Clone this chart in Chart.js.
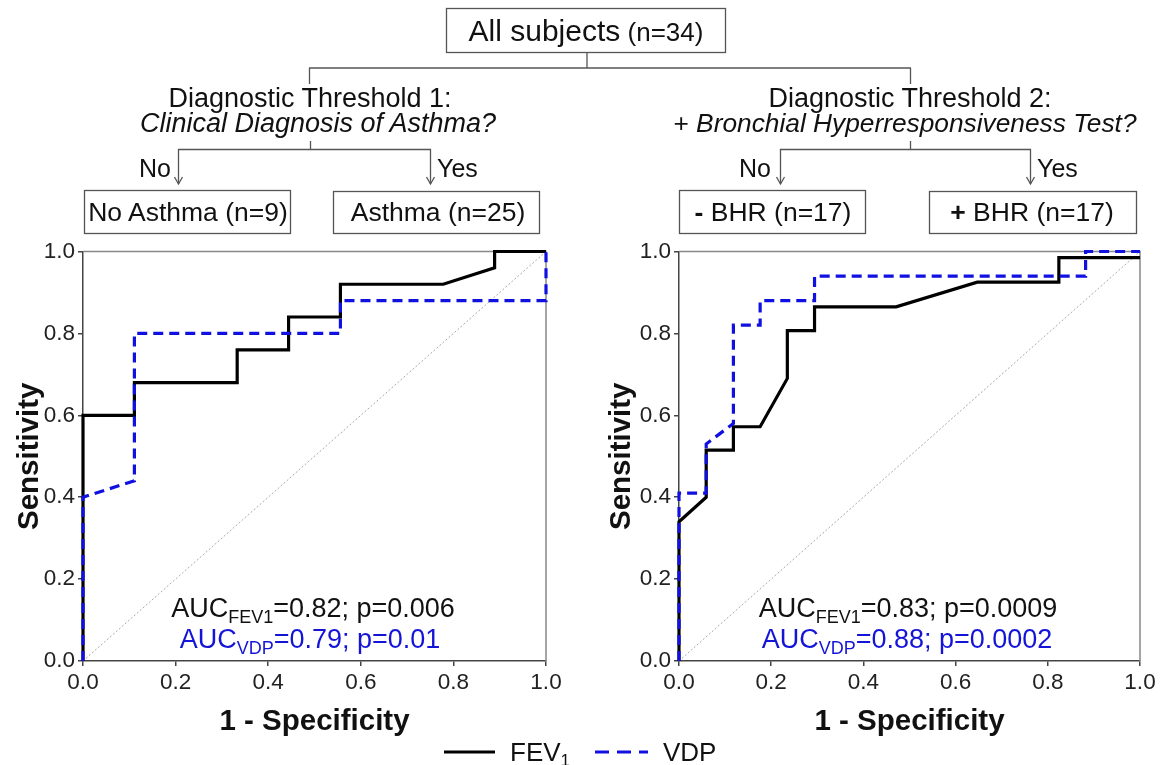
<!DOCTYPE html>
<html>
<head>
<meta charset="utf-8">
<script src="https://cdn.jsdelivr.net/npm/chart.js@4.4.1/dist/chart.umd.min.js"></script>
<style>
    body { margin: 0; background: #fff; }
    #page { position: relative; width: 1166px; height: 765px; overflow: hidden; font-family: 'Liberation Sans', Arial, sans-serif; }
    canvas { position: absolute; top: 235px; }
    #rocLeft { left: 0; }
    #rocRight { left: 583px; }
    #overlay { position: absolute; left: 0; top: 0; z-index: 2; pointer-events: none; }
</style>
</head>
<body>
<div id="page">
    <canvas id="rocLeft" width="583" height="506"></canvas>
    <canvas id="rocRight" width="583" height="506"></canvas>
    <svg id="overlay" width="1166" height="765" font-family="'Liberation Sans', Arial, sans-serif">
        <!-- decision tree -->
        <g stroke="#555" stroke-width="1.3" fill="none">
            <rect x="446.5" y="8.5" width="279" height="44"/>
            <path d="M587 53 V68 M309 68 H911 M309.5 68 V84 M910.5 68 V84"/>
            <path d="M310.5 141 V149 M178 149.5 H431 M178.5 149 V184 M430.5 149 V184"/>
            <path d="M174.5 177 L178.5 184 L182.5 177 M426.5 177 L430.5 184 L434.5 177"/>
            <path d="M910.5 141 V149 M780 149.5 H1031 M780.5 149 V184 M1030.5 149 V184"/>
            <path d="M776.5 177 L780.5 184 L784.5 177 M1026.5 177 L1030.5 184 L1034.5 177"/>
            <rect x="84.5" y="190.5" width="206" height="43"/>
            <rect x="333.5" y="191.5" width="206" height="42"/>
            <rect x="679.5" y="190.5" width="186" height="43"/>
            <rect x="929.5" y="191.5" width="207" height="42"/>
        </g>
        <g fill="#111">
            <text x="586" y="41" text-anchor="middle"><tspan font-size="30">All subjects</tspan><tspan font-size="26"> (n=34)</tspan></text>
            <text x="310" y="107" text-anchor="middle" font-size="27">Diagnostic Threshold 1:</text>
            <text x="318" y="132" text-anchor="middle" font-size="27" font-style="italic">Clinical Diagnosis of Asthma?</text>
            <text x="910" y="107" text-anchor="middle" font-size="27">Diagnostic Threshold 2:</text>
            <text x="905" y="132" text-anchor="middle" font-size="26.3">+ <tspan font-style="italic">Bronchial Hyperresponsiveness Test?</tspan></text>
            <text x="171" y="177" text-anchor="end" font-size="25">No</text>
            <text x="437" y="177" font-size="25">Yes</text>
            <text x="771" y="177" text-anchor="end" font-size="25">No</text>
            <text x="1037" y="177" font-size="25">Yes</text>
            <text x="188" y="221" text-anchor="middle" font-size="26.5">No Asthma (n=9)</text>
            <text x="438" y="221" text-anchor="middle" font-size="26.5">Asthma (n=25)</text>
            <text x="773" y="221" text-anchor="middle" font-size="26.5"><tspan font-weight="bold">-</tspan> BHR (n=17)</text>
            <text x="1032" y="221" text-anchor="middle" font-size="26.5"><tspan font-weight="bold">+</tspan> BHR (n=17)</text>
        </g>
        <!-- AUC annotations -->
        <text x="313" y="617" text-anchor="middle" font-size="27" fill="#111">AUC<tspan font-size="18" dy="6">FEV1</tspan><tspan dy="-6">=0.82; p=0.006</tspan></text>
        <text x="310" y="648" text-anchor="middle" font-size="27" fill="#1414d8">AUC<tspan font-size="18" dy="6">VDP</tspan><tspan dy="-6">=0.79; p=0.01</tspan></text>
        <text x="908" y="617" text-anchor="middle" font-size="27" fill="#111">AUC<tspan font-size="18" dy="6">FEV1</tspan><tspan dy="-6">=0.83; p=0.0009</tspan></text>
        <text x="907" y="648" text-anchor="middle" font-size="27" fill="#1414d8">AUC<tspan font-size="18" dy="6">VDP</tspan><tspan dy="-6">=0.88; p=0.0002</tspan></text>
        <!-- legend -->
        <line x1="444" y1="752" x2="495" y2="752" stroke="#000" stroke-width="3"/>
        <text x="510" y="761" font-size="26" fill="#111">FEV<tspan font-size="17" dy="5">1</tspan></text>
        <line x1="595" y1="752" x2="648" y2="752" stroke="#1010e0" stroke-width="3" stroke-dasharray="14 8"/>
        <text x="663" y="761" font-size="26" fill="#111">VDP</text>
    </svg>
</div>
<script>
    // ROC curve points (x = 1 - specificity, y = sensitivity)
    var leftFevX = [0, 0, 0.111, 0.111, 0.333, 0.333, 0.444, 0.444, 0.556, 0.556, 0.778, 0.889, 0.889, 1.0];
    var leftFevY = [0, 0.60, 0.60, 0.68, 0.68, 0.76, 0.76, 0.84, 0.84, 0.92, 0.92, 0.96, 1.0, 1.0];
    var leftVdpX = [0, 0, 0.111, 0.111, 0.556, 0.556, 1.0, 1.0];
    var leftVdpY = [0, 0.40, 0.44, 0.80, 0.80, 0.88, 0.88, 1.0];

    var rightFevX = [0, 0, 0.059, 0.059, 0.118, 0.118, 0.176, 0.235, 0.235, 0.294, 0.294, 0.471, 0.647, 0.824, 0.824, 1.0];
    var rightFevY = [0, 0.34, 0.40, 0.515, 0.515, 0.572, 0.572, 0.69, 0.807, 0.807, 0.865, 0.865, 0.925, 0.925, 0.985, 0.985];
    var rightVdpX = [0, 0, 0.059, 0.059, 0.118, 0.118, 0.176, 0.176, 0.294, 0.294, 0.882, 0.882, 1.0];
    var rightVdpY = [0, 0.41, 0.41, 0.53, 0.58, 0.82, 0.82, 0.88, 0.88, 0.94, 0.94, 1.0, 1.0];

    var diagX = [0, 1];
    var diagY = [0, 1];

    var axisTicks = [0, 0.2, 0.4, 0.6, 0.8, 1.0];

    var fontFamily = "'Liberation Sans', Arial, sans-serif";
    var blue = '#1010e0';

    Chart.defaults.font.family = fontFamily;

    // grey top/right frame of the plot box
    var framePlugin = {
        id: 'frame',
        beforeDatasetsDraw: function (chart) {
            var a = chart.chartArea;
            var ctx = chart.ctx;
            ctx.save();
            ctx.strokeStyle = '#888';
            ctx.lineWidth = 1.5;
            ctx.beginPath();
            ctx.moveTo(a.left, a.top);
            ctx.lineTo(a.right, a.top);
            ctx.lineTo(a.right, a.bottom);
            ctx.stroke();
            ctx.restore();
        }
    };

    function toPoints(xs, ys) {
        return xs.map(function (x, i) {
            return {x: x, y: ys[i]};
        });
    }

    function axisOptions(titleText, titlePad, fitFn) {
        return {
            type: 'linear',
            min: 0,
            max: 1,
            afterBuildTicks: function (scale) {
                scale.ticks = axisTicks.map(function (v) { return {value: v}; });
            },
            ticks: {
                font: {size: 22.5},
                color: '#222',
                padding: 3,
                maxRotation: 0,
                autoSkip: false,
                callback: function (v) { return Number(v).toFixed(1); }
            },
            grid: {drawOnChartArea: false, tickLength: 5, color: '#444', lineWidth: 1.5},
            border: {color: '#444', width: 1.5},
            title: {
                display: true,
                text: titleText,
                color: '#111',
                font: {size: 29.5, weight: 'bold'},
                padding: titlePad
            },
            afterFit: fitFn
        };
    }

    function rocChart(canvasId, fevX, fevY, vdpX, vdpY, yWidth, yTitlePad, rightPad) {
        var el = document.getElementById(canvasId);
        return new Chart(el, {
            type: 'scatter',
            data: {
                datasets: [{
                        label: 'VDP',
                        data: toPoints(vdpX, vdpY),
                        showLine: true,
                        borderColor: blue,
                        borderWidth: 3.2,
                        borderDash: [10, 6],
                        pointRadius: 0,
                        clip: 6,
                        order: 0
                    }, {
                        label: 'FEV1',
                        data: toPoints(fevX, fevY),
                        showLine: true,
                        borderColor: '#000',
                        borderWidth: 3.2,
                        pointRadius: 0,
                        clip: 6,
                        order: 1
                    }, {
                        label: 'reference',
                        data: toPoints(diagX, diagY),
                        showLine: true,
                        borderColor: '#aaa',
                        borderWidth: 1,
                        borderDash: [2, 2],
                        pointRadius: 0,
                        order: 2
                    }]
            },
            options: {
                responsive: false,
                animation: false,
                events: [],
                layout: {padding: {top: 15, right: rightPad, left: 0, bottom: 0}},
                plugins: {
                    legend: {display: false},
                    tooltip: {enabled: false}
                },
                scales: {
                    x: axisOptions('1 - Specificity', {top: 0, bottom: 1}, function (s) { s.height = 80; }),
                    y: axisOptions('Sensitivity', {top: yTitlePad, bottom: 0}, function (s) { s.width = yWidth; })
                }
            },
            plugins: [framePlugin]
        });
    }

    rocChart('rocLeft', leftFevX, leftFevY, leftVdpX, leftVdpY, 83, 12, 37);
    rocChart('rocRight', rightFevX, rightFevY, rightVdpX, rightVdpY, 96, 21, 26);
</script>
</body>
</html>
